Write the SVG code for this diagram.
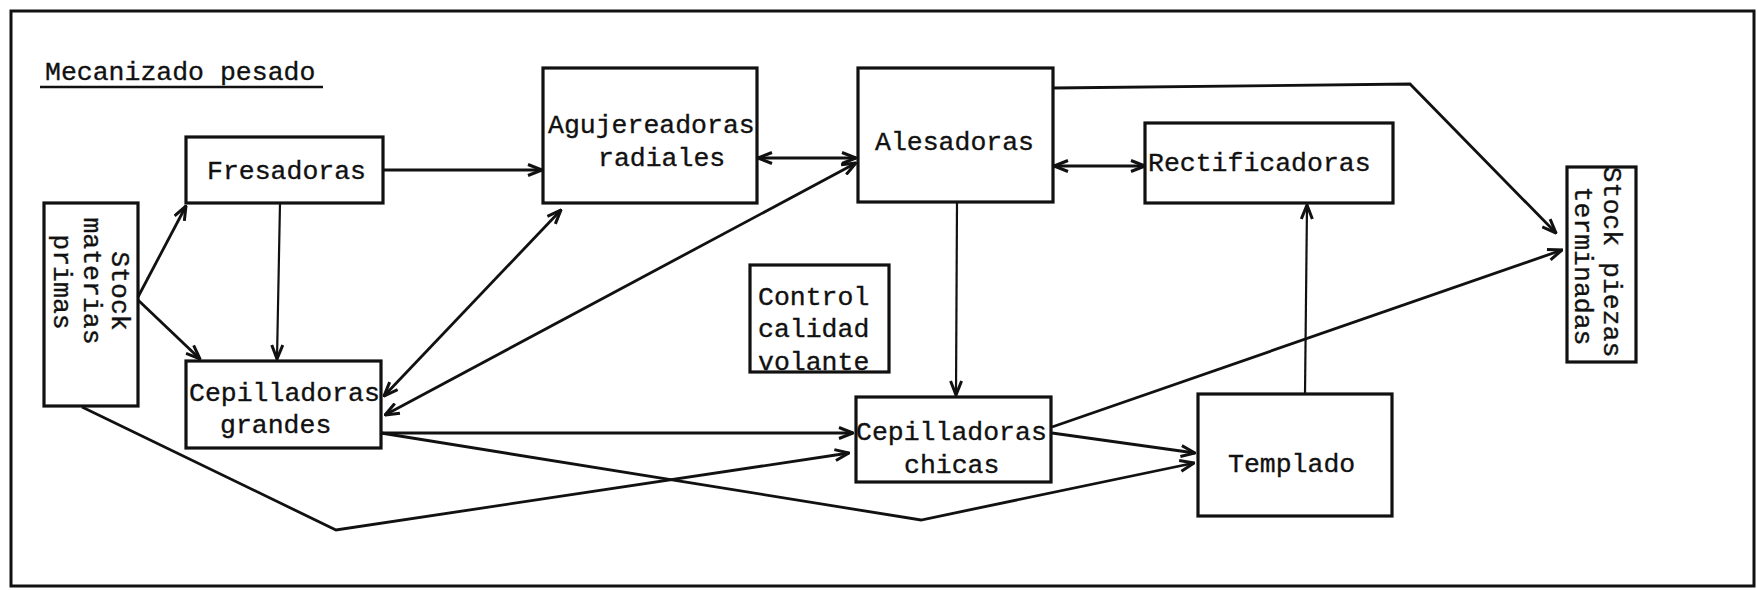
<svg xmlns="http://www.w3.org/2000/svg" width="1757" height="590" viewBox="0 0 1757 590">
<defs>
<style>
.box{fill:none;stroke:#111;stroke-width:3.2}
.t{font-family:"Liberation Mono","DejaVu Sans Mono",monospace;font-size:26.5px;fill:#111;stroke:#111;stroke-width:0.35}
.c{fill:none;stroke:#111;stroke-width:2.8;stroke-linejoin:miter}
.thin{stroke-width:2.2}
</style>
<marker id="ah" viewBox="0 0 16 14" refX="15" refY="7" markerWidth="16" markerHeight="14" markerUnits="userSpaceOnUse" orient="auto-start-reverse">
<path d="M1,1.5 L15,7 L1,12.5" fill="none" stroke="#111" stroke-width="3"/>
</marker>
</defs>
<rect x="0" y="0" width="1757" height="590" fill="#fff"/>
<rect x="11" y="11" width="1743" height="575" fill="none" stroke="#111" stroke-width="3"/>
<g id="title">
<text class="t" x="45" y="80" font-size="27">Mecanizado pesado</text>
<line x1="40" y1="87" x2="323" y2="87" stroke="#111" stroke-width="2.5"/>
</g>
<g id="stock-materias">
<rect class="box" x="44" y="203" width="94" height="203"/>
<text class="t" text-anchor="middle" transform="translate(112,291) rotate(90)">Stock</text>
<text class="t" text-anchor="middle" transform="translate(84,281) rotate(90)">materias</text>
<text class="t" text-anchor="middle" transform="translate(54,282) rotate(90)">primas</text>
</g>
<g id="fresadoras">
<rect class="box" x="186" y="137" width="197" height="66"/>
<text class="t" x="207" y="179">Fresadoras</text>
</g>
<g id="agujereadoras">
<rect class="box" x="543" y="68" width="214" height="135"/>
<text class="t" x="548" y="133">Agujereadoras</text>
<text class="t" x="598" y="166">radiales</text>
</g>
<g id="alesadoras">
<rect class="box" x="858" y="68" width="195" height="134"/>
<text class="t" x="875" y="150">Alesadoras</text>
</g>
<g id="rectificadoras">
<rect class="box" x="1145" y="123" width="248" height="80"/>
<text class="t" x="1148" y="171">Rectificadoras</text>
</g>
<g id="control">
<rect class="box" x="750" y="265" width="139" height="107"/>
<text class="t" x="758" y="305">Control</text>
<text class="t" x="758" y="337">calidad</text>
<text class="t" x="758" y="370">volante</text>
</g>
<g id="cep-grandes">
<rect class="box" x="186" y="361" width="195" height="87"/>
<text class="t" x="189" y="401">Cepilladoras</text>
<text class="t" x="220" y="433">grandes</text>
</g>
<g id="cep-chicas">
<rect class="box" x="856" y="397" width="195" height="85"/>
<text class="t" x="856" y="440">Cepilladoras</text>
<text class="t" x="904" y="473">chicas</text>
</g>
<g id="templado">
<rect class="box" x="1198" y="394" width="194" height="122"/>
<text class="t" x="1228" y="472">Templado</text>
</g>
<g id="stock-piezas">
<rect class="box" x="1567" y="167" width="69" height="195"/>
<text class="t" text-anchor="middle" transform="translate(1604,262) rotate(90)">Stock piezas</text>
<text class="t" text-anchor="middle" transform="translate(1575,266) rotate(90)">terminadas</text>
</g>
<g id="connectors">
<line class="c" x1="138" y1="297" x2="186" y2="206" marker-end="url(#ah)"/>
<line class="c" x1="138" y1="300" x2="200" y2="359" marker-end="url(#ah)"/>
<line class="c thin" x1="280" y1="203" x2="277" y2="359" marker-end="url(#ah)"/>
<line class="c" x1="383" y1="170" x2="542" y2="170" marker-end="url(#ah)"/>
<line class="c" x1="758" y1="158" x2="856" y2="158" marker-start="url(#ah)" marker-end="url(#ah)"/>
<line class="c" x1="384" y1="396" x2="561" y2="210" marker-start="url(#ah)" marker-end="url(#ah)"/>
<line class="c" x1="385" y1="415" x2="856" y2="163" marker-start="url(#ah)" marker-end="url(#ah)"/>
<line class="c" x1="1054" y1="166" x2="1145" y2="166" marker-start="url(#ah)" marker-end="url(#ah)"/>
<polyline class="c" points="1053,88 1410,84 1556,233" marker-end="url(#ah)"/>
<line class="c thin" x1="957" y1="202" x2="956" y2="395" marker-end="url(#ah)"/>
<line class="c" x1="381" y1="433" x2="853" y2="433" marker-end="url(#ah)"/>
<polyline class="c" points="82,407 336,530 849,453" marker-end="url(#ah)"/>
<polyline class="c" points="381,433 921,520 1194,463" marker-end="url(#ah)"/>
<line class="c" x1="1052" y1="433" x2="1195" y2="453" marker-end="url(#ah)"/>
<line class="c" x1="1052" y1="427" x2="1562" y2="250" marker-end="url(#ah)"/>
<line class="c thin" x1="1305" y1="394" x2="1307" y2="205" marker-end="url(#ah)"/>
</g>
</svg>
